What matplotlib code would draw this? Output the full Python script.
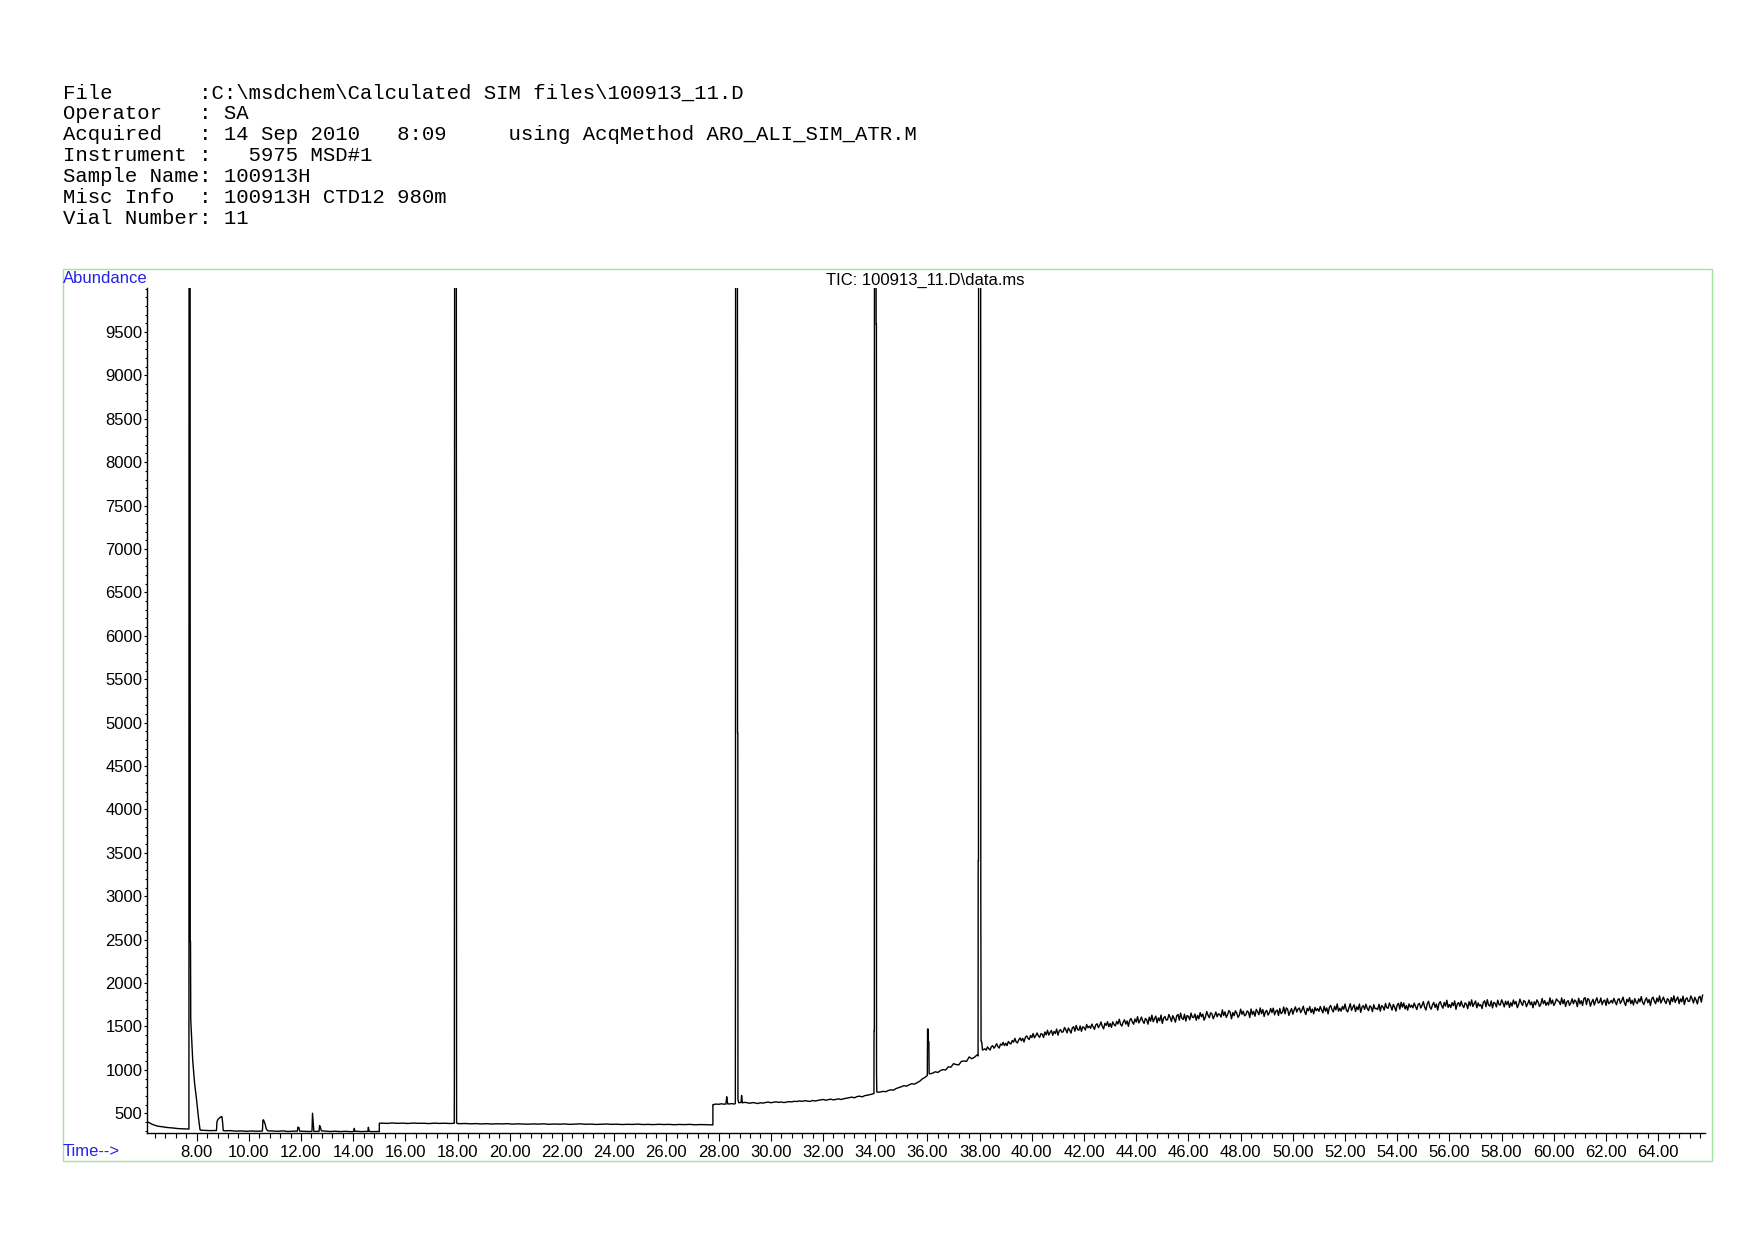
import numpy as np
import matplotlib
matplotlib.use('Agg')
from matplotlib import pyplot as plt
from matplotlib.patches import Rectangle
from matplotlib.ticker import MultipleLocator, FormatStrFormatter

# header block of the report
header_lines = [
    r"File       :C:\msdchem\Calculated SIM files\100913_11.D",
    r"Operator   : SA",
    r"Acquired   : 14 Sep 2010   8:09     using AcqMethod ARO_ALI_SIM_ATR.M",
    r"Instrument :   5975 MSD#1",
    r"Sample Name: 100913H",
    r"Misc Info  : 100913H CTD12 980m",
    r"Vial Number: 11",
]
tic_title = r"TIC: 100913_11.D\data.ms"
y_ticks = [500, 1000, 1500, 2000, 2500, 3000, 3500, 4000, 4500, 5000,
           5500, 6000, 6500, 7000, 7500, 8000, 8500, 9000, 9500]

# baseline, 6.1 - 27.7 min every 0.2 min
early_start, early_step = 6.1, 0.2
early_vals = [
    405, 372, 352, 343, 335, 330, 323, 320, 318, 900,
    400, 303, 300, 301, 455, 298, 300, 294, 297, 292,
    296, 293, 295, 330, 296, 292, 297, 290, 294, 300,
    292, 290, 290, 305, 295, 290, 293, 289, 292, 288,
    293, 289, 291, 288, 290, 386, 383, 388, 384, 386,
    382, 387, 384, 385, 381, 386, 383, 385, 382, 384,
    380, 382, 378, 381, 377, 380, 376, 379, 377, 380,
    375, 378, 376, 374, 377, 375, 378, 373, 376, 374,
    377, 372, 375, 378, 373, 375, 371, 374, 376, 372,
    374, 370, 373, 371, 375, 370, 372, 369, 373, 370,
    372, 368, 371, 369, 372, 367, 370, 368, 366,
]

# baseline, 27.8 - 38.1 min every 0.1 min
mid_start, mid_step = 27.8, 0.1
mid_vals = [
    600, 606, 603, 609, 605, 640, 607, 611, 606, 610,
    622, 618, 626, 620, 615, 623, 619, 612, 621, 617,
    624, 629, 621, 627, 632, 625, 630, 623, 628, 634,
    631, 638, 635, 642, 637, 645, 640, 636, 647, 641,
    648, 653, 659, 650, 657, 662, 654, 660, 666, 658,
    668, 673, 680, 686, 678, 692, 697, 689, 703, 708,
    715, 722, 730, 740, 745, 752, 748, 762, 770, 766,
    785, 795, 805, 818, 812, 828, 840, 835, 852, 868,
    895, 912, 940, 955, 962, 978, 970, 992, 1003, 998,
    1035, 1031, 1071, 1061, 1057, 1098, 1102, 1098, 1149, 1128,
    1145, 1172, 1180, 1230,
]

# baseline, 38.2 - 65.7 min every 0.05 min (one row per minute)
late_start, late_step = 38.2, 0.05
late_vals = [
    1242, 1227, 1264, 1244, 1228, 1267, 1278, 1249, 1271, 1301, 1268, 1251, 1298, 1284, 1317, 1279, 1307, 1279, 1327, 1307,
    1298, 1338, 1319, 1363, 1321, 1310, 1346, 1368, 1335, 1363, 1321, 1373, 1391, 1365, 1349, 1396, 1372, 1419, 1369, 1394,
    1425, 1392, 1375, 1418, 1410, 1373, 1436, 1403, 1456, 1401, 1431, 1454, 1398, 1442, 1419, 1470, 1400, 1448, 1464, 1433,
    1438, 1488, 1462, 1426, 1481, 1457, 1423, 1483, 1497, 1445, 1512, 1464, 1456, 1506, 1444, 1496, 1488, 1459, 1523, 1485,
    1503, 1478, 1527, 1495, 1467, 1518, 1531, 1486, 1513, 1552, 1500, 1472, 1536, 1512, 1555, 1497, 1534, 1489, 1553, 1521,
    1506, 1558, 1528, 1583, 1524, 1504, 1551, 1577, 1527, 1563, 1501, 1570, 1592, 1551, 1526, 1586, 1550, 1613, 1540, 1571,
    1608, 1561, 1535, 1592, 1578, 1526, 1607, 1561, 1630, 1554, 1590, 1619, 1542, 1599, 1565, 1631, 1535, 1596, 1615, 1573,
    1577, 1638, 1604, 1557, 1624, 1592, 1549, 1622, 1639, 1572, 1653, 1592, 1580, 1641, 1562, 1626, 1615, 1576, 1654, 1605,
    1602, 1643, 1571, 1627, 1588, 1659, 1612, 1643, 1572, 1608, 1672, 1630, 1601, 1657, 1646, 1589, 1625, 1666, 1612, 1645,
    1639, 1607, 1691, 1625, 1668, 1604, 1635, 1683, 1662, 1588, 1659, 1623, 1680, 1654, 1605, 1630, 1699, 1640, 1676, 1622,
    1635, 1679, 1663, 1603, 1701, 1637, 1673, 1618, 1697, 1670, 1635, 1713, 1647, 1695, 1615, 1669, 1685, 1631, 1658, 1707,
    1660, 1711, 1634, 1675, 1689, 1626, 1707, 1648, 1662, 1724, 1645, 1714, 1698, 1627, 1673, 1706, 1641, 1690, 1726, 1666,
    1700, 1713, 1659, 1689, 1733, 1671, 1637, 1709, 1680, 1729, 1660, 1700, 1646, 1720, 1681, 1705, 1674, 1730, 1691, 1656,
    1732, 1676, 1713, 1644, 1720, 1742, 1696, 1667, 1732, 1691, 1759, 1676, 1710, 1676, 1731, 1697, 1758, 1690, 1667, 1717,
    1762, 1685, 1721, 1749, 1672, 1727, 1693, 1758, 1662, 1722, 1740, 1697, 1756, 1708, 1682, 1737, 1723, 1670, 1751, 1704,
    1708, 1695, 1756, 1676, 1740, 1727, 1688, 1765, 1716, 1709, 1770, 1735, 1688, 1754, 1722, 1677, 1750, 1766, 1699, 1779,
    1722, 1770, 1701, 1741, 1687, 1760, 1721, 1745, 1714, 1769, 1730, 1695, 1754, 1766, 1712, 1742, 1786, 1723, 1689, 1761,
    1790, 1722, 1699, 1749, 1777, 1720, 1758, 1688, 1764, 1786, 1740, 1710, 1776, 1734, 1802, 1719, 1753, 1718, 1774, 1739,
    1794, 1697, 1758, 1775, 1732, 1791, 1743, 1717, 1772, 1757, 1705, 1785, 1738, 1806, 1729, 1764, 1793, 1715, 1771, 1736,
    1751, 1706, 1779, 1795, 1727, 1808, 1746, 1734, 1794, 1714, 1778, 1765, 1725, 1803, 1753, 1746, 1807, 1772, 1725, 1791,
    1751, 1791, 1719, 1774, 1734, 1805, 1757, 1788, 1716, 1751, 1815, 1772, 1742, 1798, 1786, 1728, 1764, 1804, 1750, 1782,
    1715, 1785, 1749, 1806, 1779, 1730, 1754, 1822, 1762, 1798, 1743, 1778, 1746, 1829, 1762, 1804, 1740, 1770, 1817, 1796,
    1786, 1751, 1829, 1762, 1809, 1730, 1783, 1798, 1743, 1771, 1819, 1761, 1805, 1788, 1728, 1825, 1761, 1796, 1741, 1820,
    1832, 1752, 1821, 1805, 1733, 1779, 1812, 1746, 1794, 1830, 1770, 1777, 1828, 1751, 1791, 1804, 1742, 1822, 1762, 1776,
    1800, 1768, 1824, 1784, 1749, 1807, 1820, 1765, 1795, 1838, 1776, 1741, 1813, 1783, 1832, 1762, 1802, 1747, 1821, 1781,
    1763, 1818, 1784, 1844, 1776, 1752, 1803, 1830, 1773, 1810, 1741, 1816, 1838, 1791, 1762, 1827, 1785, 1852, 1770, 1803,
    1838, 1790, 1764, 1819, 1805, 1752, 1832, 1786, 1853, 1777, 1812, 1840, 1763, 1818, 1784, 1849, 1752, 1813, 1830, 1788,
    1791, 1852, 1817, 1770, 1836, 1804, 1759, 1832, 1848, 1781, 1861,
]

# peaks and steps, listed point by point (tops above the axis get clipped)
peak_t = [
    [7.705, 7.71, 7.75, 7.755, 7.765, 7.775, 7.85, 7.92, 8.0, 8.07, 8.13, 8.16],
    [8.76, 8.78, 8.82, 8.87, 8.93, 8.97, 9.0, 9.02],
    [10.52, 10.54, 10.56, 10.62, 10.67, 10.72],
    [11.86, 11.88, 11.92, 11.95],
    [12.42, 12.44, 12.46, 12.49],
    [12.69, 12.71, 12.74, 12.78],
    [14.02, 14.04, 14.06],
    [14.56, 14.58, 14.61],
    [15.0, 15.0],
    [17.87, 17.875, 17.885, 17.95, 17.955, 17.96, 17.99],
    [27.78, 27.78],
    [28.28, 28.31, 28.33, 28.35],
    [28.64, 28.645, 28.65, 28.72, 28.725, 28.735, 28.74, 28.77],
    [28.86, 28.88, 28.91],
    [33.95, 33.955, 33.965, 33.97, 34.03, 34.035, 34.045, 34.05, 34.06, 34.11],
    [35.995, 36.005, 36.025, 36.035, 36.055, 36.065],
    [37.94, 37.945, 37.955, 37.96, 38.04, 38.045, 38.055, 38.06, 38.08, 38.11],
]
peak_a = [
    [318, 10600, 10600, 2480, 2480, 1575, 1110, 850, 650, 450, 310, 305],
    [301, 405, 430, 445, 458, 462, 380, 300],
    [295, 420, 425, 380, 320, 298],
    [294, 340, 335, 294],
    [291, 500, 420, 300],
    [292, 358, 340, 298],
    [290, 326, 292],
    [290, 338, 292],
    [289, 385],
    [384, 884, 10600, 10600, 2200, 390, 382],
    [366, 600],
    [606, 690, 640, 607],
    [612, 2250, 10600, 10600, 4880, 4880, 660, 622],
    [624, 705, 620],
    [728, 1450, 1450, 10600, 10600, 9590, 9590, 960, 745, 742],
    [935, 1470, 1470, 1325, 1325, 955],
    [1160, 3410, 3410, 10600, 10600, 3000, 1330, 1330, 1320, 1228],
]

# build the trace
base_t = np.concatenate([early_start + early_step * np.arange(len(early_vals)),
                         mid_start + mid_step * np.arange(len(mid_vals)),
                         late_start + late_step * np.arange(len(late_vals))])
base_a = np.concatenate([early_vals, mid_vals, late_vals]).astype(float)
keep = np.ones(len(base_t), dtype=bool)
for pt in peak_t:
    keep &= ~((base_t >= pt[0]) & (base_t <= pt[-1]))
t = np.concatenate([base_t[keep]] + [np.array(p, dtype=float) for p in peak_t])
a = np.concatenate([base_a[keep]] + [np.array(p, dtype=float) for p in peak_a])
order = np.argsort(t, kind='stable')
t, a = t[order], a[order]

plt.rcParams['font.family'] = ['Liberation Sans', 'DejaVu Sans']

W, H = 1754, 1240
fig = plt.figure(figsize=(W / 100, H / 100), dpi=100)

# header text
for i, line in enumerate(header_lines):
    fig.text(62.6 / W, 1 - (98.5 + i * 20.9) / H, line, family='Liberation Mono',
             fontsize=14.9, va='baseline', ha='left', color='black')

# green frame around the plot
fig.patches.append(Rectangle((62.7 / W, 1 - 1161 / H), (1712 - 62.7) / W, (1161 - 269) / H,
                             transform=fig.transFigure, fill=False, edgecolor='#9ee39e', lw=1.0))

ax = fig.add_axes([147.3 / W, 1 - 1132.7 / H, (1704.7 - 147.3) / W, (1132.7 - 288.3) / H])
ax.plot(t, a, color='black', lw=1.0)
ax.set_xlim(6.11, 65.78)
ax.set_ylim(276, 10003)

for s in ['top', 'right']:
    ax.spines[s].set_visible(False)
for s in ['left', 'bottom']:
    ax.spines[s].set_linewidth(1.0)

ax.xaxis.set_major_locator(MultipleLocator(2))
ax.xaxis.set_minor_locator(MultipleLocator(0.4))
ax.xaxis.set_major_formatter(FormatStrFormatter('%.2f'))
ax.set_yticks(y_ticks)
ax.yaxis.set_minor_locator(MultipleLocator(100))
ax.yaxis.set_major_formatter(FormatStrFormatter('%d'))

ax.tick_params(axis='x', which='major', length=6, width=0.8, pad=3, labelsize=12)
ax.tick_params(axis='x', which='minor', length=3.5, width=0.8)
ax.tick_params(axis='y', which='major', length=2.5, width=0.8, pad=1, labelsize=12)
ax.tick_params(axis='y', which='minor', length=1.5, width=0.8)

fig.text(63 / W, 1 - 278.5 / H, "Abundance", color='#2323e6', fontsize=12, va='center', ha='left')
fig.text(63 / W, 1 - 1151 / H, "Time-->", color='#2323e6', fontsize=12, va='center', ha='left')
fig.text(925 / W, 1 - 280 / H, tic_title, color='black', fontsize=12, va='center', ha='center')

fig.savefig('out.png', dpi=100)
